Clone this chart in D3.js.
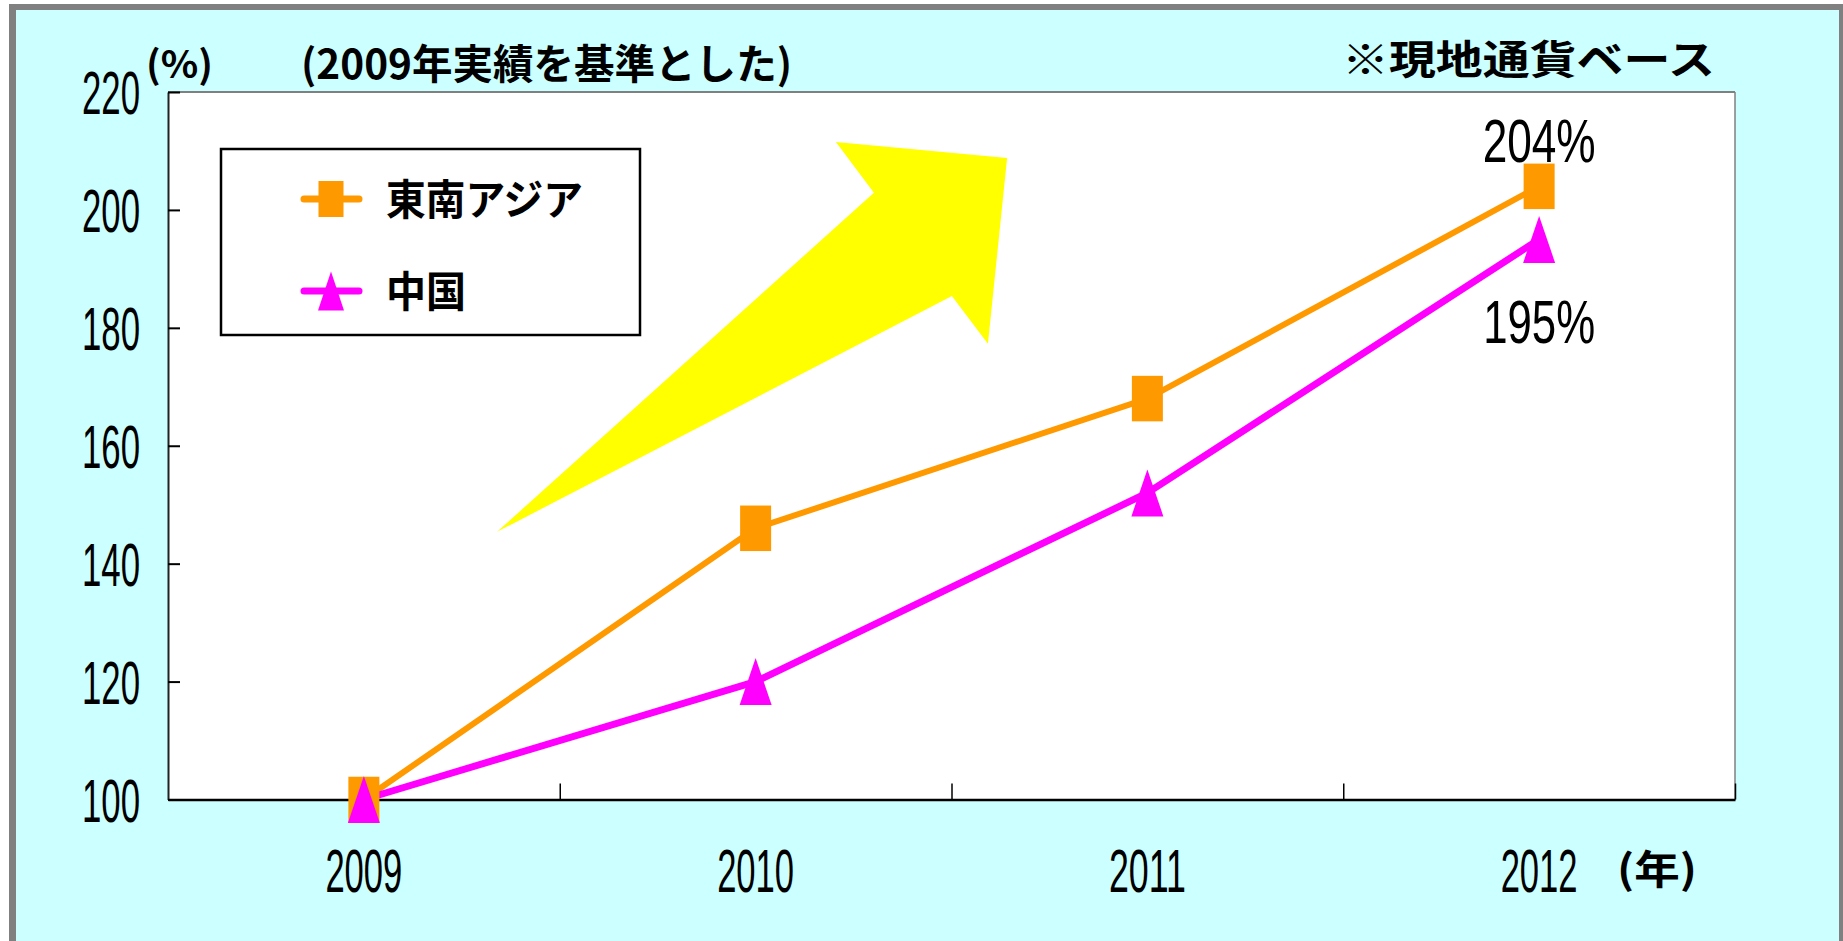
<!DOCTYPE html>
<html><head><meta charset="utf-8">
<script src="https://cdn.jsdelivr.net/npm/d3@7"></script>
<style>html,body{margin:0;padding:0;background:#fff;overflow:hidden}</style>
</head><body>
<svg id="c" width="1843" height="941"></svg>
<script>
// ---- data ----
const years = ["2009", "2010", "2011", "2012"];
const seAsia = [100, 146, 168, 204];
const china = [100, 120, 152, 195];
const yTicks = [100, 120, 140, 160, 180, 200, 220];
const seriesNames = ["東南アジア", "中国"];
const endLabels = ["204%", "195%"];
// decorative arrow, in (category index, value) units
const arrowShape = [[0.34,145.4],[1.302,202.9],[1.205,211.5],[1.642,208.8],[1.593,177.3],[1.501,185.4]];

// ---- layout ----
const W = 1843, H = 941;
const L = 168, R = 1735, T = 92, B = 799.5;
const svg = d3.select("#c");
const numFont = "'Liberation Sans', Arial, sans-serif";
const cjkFont = "'Noto Sans CJK JP', 'Noto Sans CJK SC', sans-serif";

// frame
svg.append("rect").attr("x", 9).attr("y", 4).attr("width", W).attr("height", H).attr("fill", "#808080");
svg.append("rect").attr("x", 16).attr("y", 10).attr("width", 1839 - 16).attr("height", H).attr("fill", "#CCFFFF");

// scales
const y = d3.scaleLinear().domain([100, 220]).range([B, T]);
const xBand = d3.scaleBand().domain(years).range([L, R]).padding(0);
const xIdx = d3.scaleLinear().domain([-0.5, 3.5]).range([L, R]);
const cx = i => xBand(years[i]) + xBand.bandwidth() / 2;

// plot area
svg.append("rect").attr("x", L).attr("y", T).attr("width", R - L).attr("height", B - T).attr("fill", "#fff");
svg.append("line").attr("x1", L).attr("x2", R).attr("y1", T).attr("y2", T).attr("stroke", "#808080").attr("stroke-width", 2);
svg.append("line").attr("x1", R).attr("x2", R).attr("y1", T).attr("y2", B).attr("stroke", "#808080").attr("stroke-width", 1.5);

// arrow
svg.append("polygon")
  .attr("points", arrowShape.map(p => [xIdx(p[0]), y(p[1])].join(",")).join(" "))
  .attr("fill", "#FFFF00");

// y axis
const gy = svg.append("g").attr("transform", `translate(${L},0)`)
  .call(d3.axisLeft(y).tickValues(yTicks).tickSizeInner(-12).tickSizeOuter(0).tickPadding(28));
gy.select(".domain").attr("stroke", "#222").attr("stroke-width", 2);
gy.selectAll(".tick line").attr("stroke", "#000").attr("stroke-width", 2);
gy.selectAll(".tick text")
  .attr("font-family", numFont).attr("font-size", 61).attr("fill", "#000")
  .attr("dy", "0.36em").attr("textLength", 58).attr("lengthAdjust", "spacingAndGlyphs");

// x axis (ticks at category boundaries, pointing inward)
const gx = svg.append("g").attr("transform", `translate(0,${B})`)
  .call(d3.axisBottom(xIdx).tickValues([0.5, 1.5, 2.5, 3.5]).tickSizeInner(-16).tickSizeOuter(0).tickFormat(""));
gx.select(".domain").attr("stroke", "#000").attr("stroke-width", 2.5);
gx.selectAll(".tick line").attr("stroke", "#000").attr("stroke-width", 1.5);

const gxl = svg.append("g").attr("transform", `translate(0,${B})`)
  .call(d3.axisBottom(xBand).tickSize(0).tickPadding(0));
gxl.select(".domain").remove();
gxl.selectAll(".tick text")
  .attr("font-family", numFont).attr("font-size", 61).attr("fill", "#000")
  .attr("y", 891.5 - B).attr("dy", 0)
  .attr("textLength", 77).attr("lengthAdjust", "spacingAndGlyphs");

svg.append("text").text("(年)").attr("x", 1617).attr("y", 884)
  .attr("font-family", cjkFont).attr("font-weight", "bold").attr("font-size", 40)
  .attr("textLength", 80).attr("lengthAdjust", "spacingAndGlyphs");

// lines
const line = d3.line().x((d, i) => cx(i)).y(d => y(d));
svg.append("path").datum(seAsia).attr("d", line).attr("fill", "none")
  .attr("stroke", "#FF9900").attr("stroke-width", 6).attr("stroke-linejoin", "round");
svg.append("path").datum(china).attr("d", line).attr("fill", "none")
  .attr("stroke", "#FF00FF").attr("stroke-width", 7).attr("stroke-linejoin", "round");

// markers
svg.append("g").selectAll("rect").data(seAsia).join("rect")
  .attr("x", (d, i) => cx(i) - 15.5).attr("y", d => y(d) - 22.75)
  .attr("width", 31).attr("height", 45.5).attr("fill", "#FF9900");
svg.append("g").selectAll("path").data(china).join("path")
  .attr("transform", (d, i) => `translate(${cx(i)},${y(d)})`)
  .attr("d", "M0,-23.5L16,23.5L-16,23.5Z").attr("fill", "#FF00FF");

// end labels
svg.append("text").text(endLabels[0]).attr("x", cx(3)).attr("y", y(seAsia[3]) - 24)
  .attr("text-anchor", "middle").attr("font-family", numFont).attr("font-size", 62)
  .attr("textLength", 113).attr("lengthAdjust", "spacingAndGlyphs");
svg.append("text").text(endLabels[1]).attr("x", cx(3)).attr("y", y(china[3]) + 104)
  .attr("text-anchor", "middle").attr("font-family", numFont).attr("font-size", 62)
  .attr("textLength", 112).attr("lengthAdjust", "spacingAndGlyphs");

// legend
const lg = svg.append("g");
lg.append("rect").attr("x", 221).attr("y", 149).attr("width", 419).attr("height", 186)
  .attr("fill", "#fff").attr("stroke", "#000").attr("stroke-width", 2.5);
const legY = [199, 291];
const legColors = ["#FF9900", "#FF00FF"];
const legW = [197, 80];
legY.forEach((ly, k) => {
  lg.append("line").attr("x1", 304).attr("x2", 359).attr("y1", ly).attr("y2", ly)
    .attr("stroke", legColors[k]).attr("stroke-width", 7).attr("stroke-linecap", "round");
  lg.append("text").text(seriesNames[k]).attr("x", 386).attr("y", ly + 16)
    .attr("font-family", cjkFont).attr("font-weight", "bold").attr("font-size", 42)
    .attr("textLength", legW[k]).attr("lengthAdjust", "spacingAndGlyphs");
});
lg.append("rect").attr("x", 331 - 12.5).attr("y", legY[0] - 18).attr("width", 25).attr("height", 36).attr("fill", "#FF9900");
lg.append("path").attr("transform", `translate(331,${legY[1]})`).attr("d", "M0,-19.5L13,19.5L-13,19.5Z").attr("fill", "#FF00FF");

// titles
svg.append("text").text("(%)").attr("x", 146).attr("y", 78)
  .attr("font-family", cjkFont).attr("font-weight", "bold").attr("font-size", 38)
  .attr("textLength", 67).attr("lengthAdjust", "spacingAndGlyphs");
svg.append("text").text("(2009年実績を基準とした)").attr("x", 301).attr("y", 79)
  .attr("font-family", cjkFont).attr("font-weight", "bold").attr("font-size", 41)
  .attr("textLength", 491).attr("lengthAdjust", "spacingAndGlyphs");
svg.append("text").text("※現地通貨ベース").attr("x", 1342).attr("y", 74)
  .attr("font-family", cjkFont).attr("font-weight", "bold").attr("font-size", 40)
  .attr("textLength", 373).attr("lengthAdjust", "spacingAndGlyphs");
</script>
</body></html>
